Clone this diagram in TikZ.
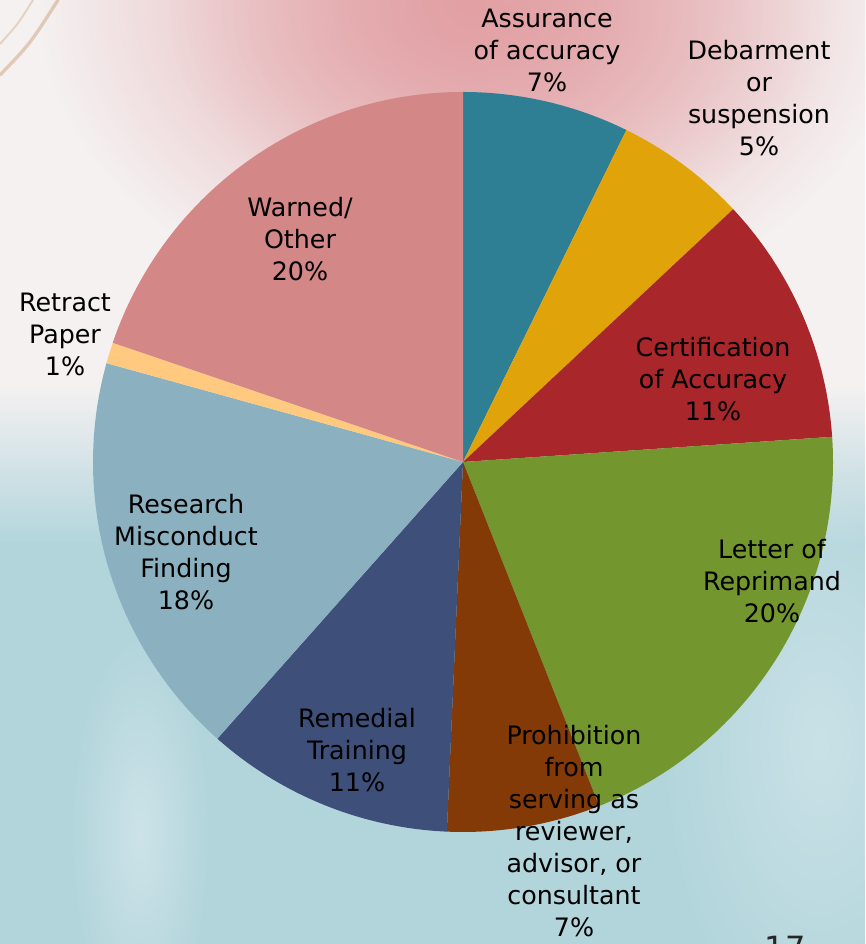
\documentclass[tikz,border=0pt]{standalone}
\usepackage{fontspec}
\setmainfont{DejaVu Sans}
\usetikzlibrary{fadings}

\definecolor{assure}{HTML}{2E7F93}
\definecolor{debar}{HTML}{E0A30A}
\definecolor{certif}{HTML}{A9262A}
\definecolor{letter}{HTML}{74962F}
\definecolor{prohib}{HTML}{833A06}
\definecolor{remed}{HTML}{3E4F7A}
\definecolor{research}{HTML}{8BB1C0}
\definecolor{retract}{HTML}{FFCA80}
\definecolor{warned}{HTML}{D38787}
\definecolor{bgtop}{HTML}{F5F1F1}
\definecolor{bgbot}{HTML}{B2D5DC}
\definecolor{bgpink}{HTML}{E2A0A4}
\definecolor{hair}{HTML}{C89A70}

\tikzfading[name=softblob, inner color=transparent!0, outer color=transparent!100]

\tikzset{lbl/.style={align=center, inner sep=0pt, font=\fontsize{19}{24}\selectfont}}

\begin{document}
\begin{tikzpicture}[x=0.75pt,y=0.75pt]

  \newcommand\R{370}

  \useasboundingbox (0,0) rectangle (865,944);

  %% blurred photo behind the chart
  \fill[bgtop] (0,560) rectangle (865,944);
  \shade[top color=bgtop, bottom color=bgbot] (0,400) rectangle (865,560);
  \fill[bgbot] (0,0) rectangle (865,400);
  \fill[white, opacity=0.35, path fading=softblob] (140,110) ellipse (70 and 200);
  \fill[white, opacity=0.3, path fading=softblob] (820,200) ellipse (160 and 300);
  \fill[bgpink, path fading=softblob] (470,940) ellipse (430 and 320);
  \fill[bgpink, opacity=0.7, path fading=softblob] (500,930) ellipse (330 and 230);
  \draw[hair, line width=2.5pt, line cap=round, opacity=0.45] (0,869) .. controls (30,900) .. (58,944);
  \draw[hair, line width=1.5pt, line cap=round, opacity=0.35] (0,900) .. controls (18,920) .. (33,944);

  \coordinate (c) at (463,482);

  %% slices, clockwise from the top
  \foreach \a/\b/\col in {90/63.8/assure, 63.8/43.1/debar, 43.1/3.9/certif,
                          3.9/-68.4/letter, -68.4/-92.5/prohib, -92.5/-131.6/remed,
                          -131.6/-195.5/research, -195.5/-198.8/retract, -198.8/-270/warned}
    \fill[\col] (c) -- ++(\a:\R) arc[start angle=\a, end angle=\b, radius=\R] -- cycle;

  %% labels
  \node[lbl] (l-assure)   at (547,894) {Assurance\\of accuracy\\7\%};
  \node[lbl] (l-debar)    at (759,846) {Debarment\\or\\suspension\\5\%};
  \node[lbl] (l-warned)   at (300,705) {Warned/\\Other\\20\%};
  \node[lbl] (l-certif)   at (713,565) {Certification\\of Accuracy\\11\%};
  \node[lbl] (l-retract)  at (65,610)  {Retract\\Paper\\1\%};
  \node[lbl] (l-research) at (186,392) {Research\\Misconduct\\Finding\\18\%};
  \node[lbl] (l-letter)   at (772,363) {Letter of\\Reprimand\\20\%};
  \node[lbl] (l-remed)    at (357,194) {Remedial\\Training\\11\%};
  \node[lbl] (l-prohib)   at (574,113) {Prohibition\\from\\serving as\\reviewer,\\advisor, or\\consultant\\7\%};

  %% page number, cut by the page edge
  \node[anchor=base, inner sep=0pt, font=\fontsize{24}{28}\selectfont, text=black!85] (pageno) at (785,-16) {17};

\end{tikzpicture}
\end{document}
